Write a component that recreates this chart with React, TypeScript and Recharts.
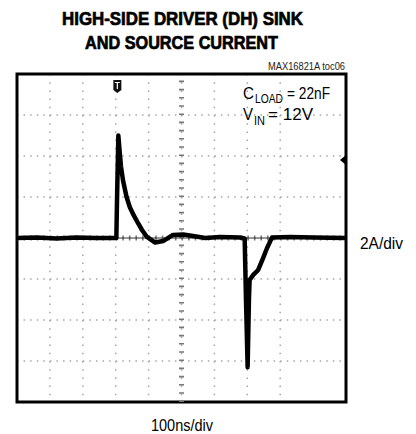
import React from 'react';
import {
    LineChart,
    Line,
    XAxis,
    YAxis,
    CartesianGrid,
    ReferenceLine,
    ReferenceArea,
    ReferenceDot,
} from 'recharts';

// scope trace: time in ns, current in A (100ns/div, 2A/div)
const timeNs = [
    0, 60, 120, 180, 240, 302, 304, 308, 311, 316, 322, 333, 343, 355, 368, 380,
    395, 420, 444, 474, 505, 535, 572, 617, 678, 692, 696, 701, 705, 707, 718,
    733, 748, 760, 775, 830, 900, 1000,
];
const currentA = [
    0, 0.02, -0.02, 0.03, 0, 0, 1.85, 5.0, 4.4, 3.5, 2.83, 2.0, 1.5, 1.1, 0.72,
    0.39, 0.05, -0.22, -0.15, 0.15, 0.17, 0.1, 0, 0.05, 0.02, -0.02, -3.0, -6.3,
    -3.0, -2.05, -1.8, -1.56, -0.98, -0.49, 0.02, 0.05, 0.02, 0,
];

const xTicks = [0, 100, 200, 300, 400, 500, 600, 700, 800, 900, 1000];
const yTicks = [-8, -6, -4, -2, 0, 2, 4, 6, 8];

const triggerTime = 305;
const triggerLevel = 3.8;

const data = timeNs.map((t, i) => ({ t, a: currentA[i] }));

const FONT = '"Liberation Sans", Arial, sans-serif';

const TriggerMarker = ({ cx, cy }: any) => (
    <g>
        <path
            d={`M${cx - 4},${cy + 6} L${cx + 4},${cy + 6} L${cx + 4},${cy + 16} L${cx},${cy + 19} L${cx - 4},${cy + 16} Z`}
            fill="#111"
        />
        <path d={`M${cx - 2.5},${cy + 8.5} L${cx + 2.5},${cy + 8.5} M${cx},${cy + 8.5} L${cx},${cy + 15}`} stroke="#fff" strokeWidth={1.2} />
    </g>
);

const LevelMarker = ({ cx, cy }: any) => (
    <path d={`M${cx - 6},${cy} L${cx},${cy - 5} L${cx},${cy + 5} Z`} fill="#000" />
);

const App = () => {
    return (
        <div style={{ position: 'absolute', left: 0, top: 0, width: 416, height: 434, background: '#fff' }}>
            <LineChart
                width={416}
                height={434}
                data={data}
                margin={{ top: 74, right: 70, bottom: 32, left: 17 }}
            >
                <XAxis dataKey="t" type="number" domain={[0, 1000]} ticks={xTicks} hide />
                <YAxis type="number" domain={[-8, 8]} ticks={yTicks} hide />
                {/* dotted graticule, 5 minor dots per division */}
                <CartesianGrid horizontal={false} stroke="#a5a5a5" strokeWidth={1.5} strokeDasharray="1.5 6.7" />
                <CartesianGrid vertical={false} stroke="#a5a5a5" strokeWidth={1.5} strokeDasharray="1.5 5.08" />
                <ReferenceLine x={500} stroke="#777" strokeWidth={5} strokeDasharray="1.6 6.6" />
                <ReferenceLine y={0} stroke="#777" strokeWidth={5} strokeDasharray="1.6 4.98" />
                <ReferenceLine y={0} stroke="#333" strokeWidth={1} />
                <Line
                    type="linear"
                    dataKey="a"
                    stroke="#000"
                    strokeWidth={4.5}
                    strokeLinejoin="round"
                    dot={false}
                    isAnimationActive={false}
                />
                <ReferenceArea x1={0} x2={1000} y1={-8} y2={8} fill="none" stroke="#000" strokeWidth={3} ifOverflow="visible" />
                <ReferenceDot x={triggerTime} y={8} shape={<TriggerMarker />} ifOverflow="visible" />
                <ReferenceDot x={1000} y={triggerLevel} shape={<LevelMarker />} ifOverflow="visible" />
            </LineChart>
            <svg
                width={416}
                height={434}
                style={{ position: 'absolute', left: 0, top: 0, pointerEvents: 'none' }}
                fontFamily={FONT}
            >
                <g fontSize={18} fontWeight={900} stroke="#000" strokeWidth={0.7}>
                    <text x={62} y={25} textLength={241} lengthAdjust="spacingAndGlyphs">
                        HIGH-SIDE DRIVER (DH) SINK
                    </text>
                    <text x={85} y={49} textLength={193} lengthAdjust="spacingAndGlyphs">
                        AND SOURCE CURRENT
                    </text>
                </g>
                <text x={268} y={70} fontSize={10} textLength={77} lengthAdjust="spacingAndGlyphs" fill="#222">
                    MAX16821A toc06
                </text>
                <text x={243} y={99} fontSize={16} textLength={11} lengthAdjust="spacingAndGlyphs">C</text>
                <text x={255} y={103} fontSize={13} textLength={28} lengthAdjust="spacingAndGlyphs">LOAD</text>
                <text x={287} y={99} fontSize={16} textLength={43} lengthAdjust="spacingAndGlyphs">= 22nF</text>
                <text x={243} y={120} fontSize={16} textLength={10} lengthAdjust="spacingAndGlyphs">V</text>
                <text x={254} y={125} fontSize={13} textLength={11} lengthAdjust="spacingAndGlyphs">IN</text>
                <text x={268} y={120} fontSize={16} textLength={45} lengthAdjust="spacingAndGlyphs">= 12V</text>
                <text x={360} y={249} fontSize={16} textLength={43} lengthAdjust="spacingAndGlyphs">2A/div</text>
                <text x={151} y={431} fontSize={16} textLength={62} lengthAdjust="spacingAndGlyphs">100ns/div</text>
            </svg>
        </div>
    );
};

export default App;
